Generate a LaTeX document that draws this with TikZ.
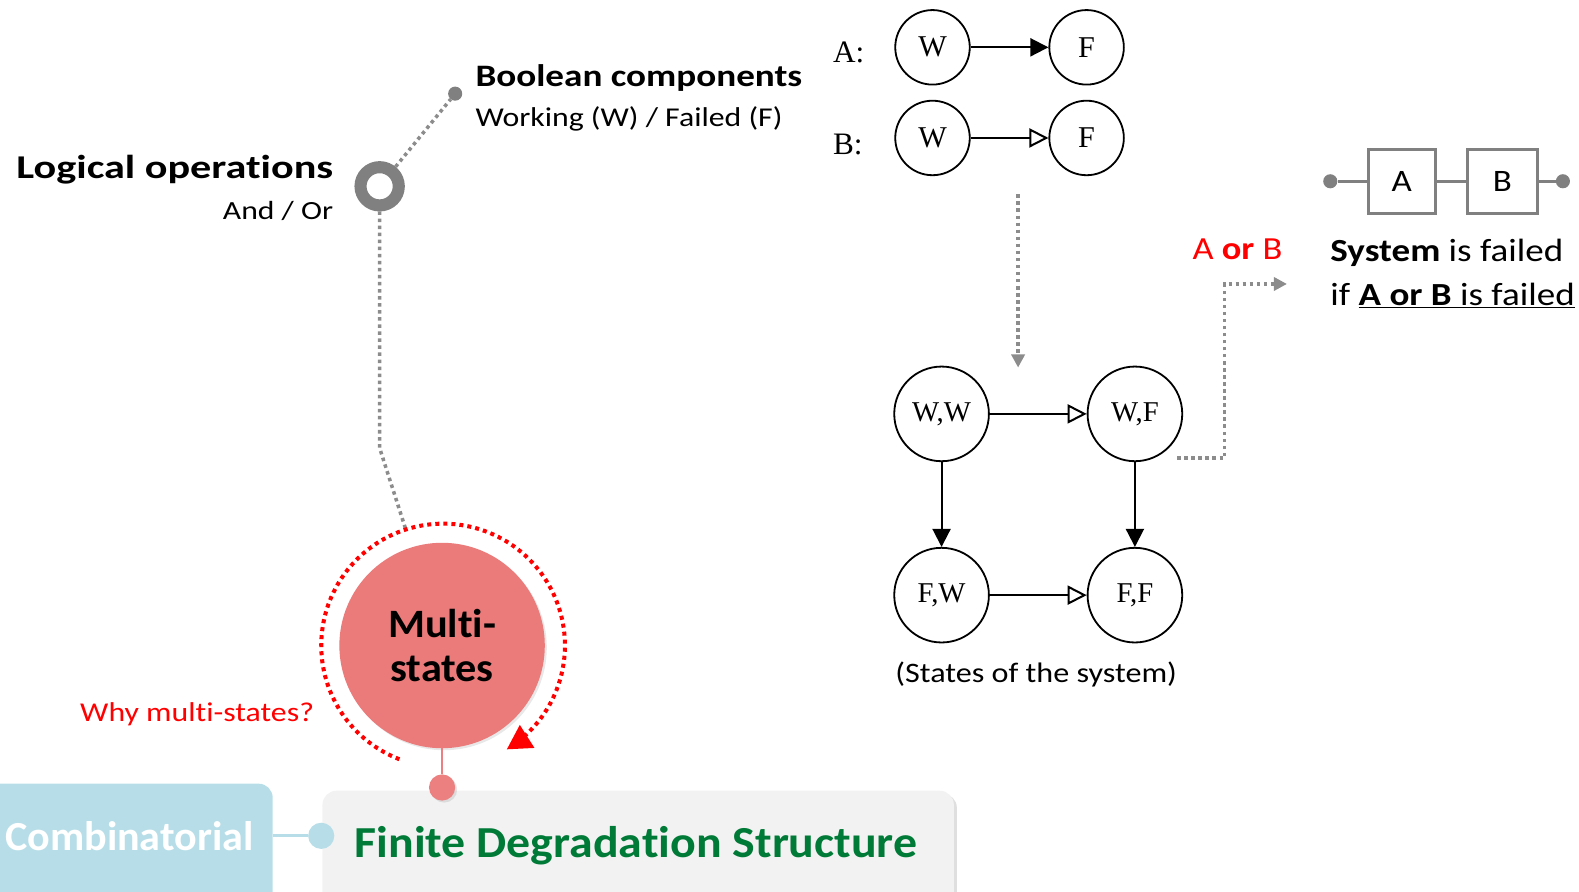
\documentclass[tikz,border=0pt]{standalone}
\usepackage{fontspec}
\setmainfont[Ligatures=NoCommon]{Carlito}
\newfontfamily\tms{Liberation Serif}
\usetikzlibrary{arrows.meta,shadows}

\definecolor{ringgray}{RGB}{128,128,128}
\definecolor{dotgray}{RGB}{140,140,140}
\definecolor{mspink}{RGB}{235,122,122}
\definecolor{dotpink}{RGB}{236,128,128}
\definecolor{combblue}{RGB}{183,222,232}
\definecolor{fdsgray}{RGB}{242,242,242}
\definecolor{fdsgreen}{RGB}{0,122,55}

% size and horizontal stretch of the text font
\newcommand{\wf}[2]{\fontsize{#1}{#1}\selectfont\addfontfeature{FakeStretch=#2}}

\begin{document}
\begin{tikzpicture}[x=1pt,y=-1pt,
  ring/.style={circle, draw=ringgray, line width=12pt, minimum size=38pt, inner sep=0pt},
  graydot/.style={circle, fill=ringgray, inner sep=0pt, minimum size=14pt},
  gdotted/.style={color=dotgray, line width=3.5pt, dash pattern=on 3.5pt off 3.5pt},
  gtip/.style={-{Triangle[length=13pt,width=13pt]}},
  smallstate/.style={circle, draw, line width=1.8pt, minimum size=74pt, inner sep=0pt, font=\tms\fontsize{30}{30}\selectfont},
  bigstate/.style={circle, draw, line width=1.8pt, minimum size=94pt, inner sep=0pt, font=\tms\fontsize{28.5}{28.5}\selectfont},
  blk/.style={line width=2pt},
  fillhead/.style={-{Triangle[length=18pt,width=18pt]}},
  openhead/.style={-{Triangle[open,length=19pt,width=19pt]}},
  sbox/.style={rectangle, draw=ringgray, line width=3pt, minimum width=67pt, minimum height=64pt, inner sep=0pt, font=\wf{31}{1.12}},
  lbl/.style={inner sep=0pt},
]
\path[use as bounding box] (0,0) rectangle (1568,885);
\clip (0,0) rectangle (1568,885);

% ---------- logical operations / boolean components ----------
\node[ring] (ring) at (377,185) {};
\node[graydot] (gdot) at (452,93) {};
\node[circle, minimum size=242pt, inner sep=0pt] (halo) at (440,641) {};
\coordinate (bend) at (377,445);
\draw[gdotted] (ring) -- (gdot);
\draw[gdotted] (ring) -- (bend) -- (halo);

\node[lbl, anchor=base east, font=\bfseries\wf{33}{1.27}] (logop) at (331,177) {Logical operations};
\node[lbl, anchor=base east, font=\wf{26}{1.21}] (andor) at (331,218) {And / Or};
\node[lbl, anchor=base west, font=\bfseries\wf{31}{1.19}] (boolc) at (472,86) {Boolean components};
\node[lbl, anchor=base west, font=\wf{27}{1.17}] (wf-lbl) at (472,126) {Working (W) / Failed (F)};

% ---------- multi-states ----------
\node[circle, fill=mspink, minimum size=204pt, inner sep=0pt, align=center,
      font=\bfseries\fontsize{40}{43}\selectfont\addfontfeature{FakeStretch=1.05},
      drop shadow={shadow xshift=2pt, shadow yshift=-2pt, opacity=0.18}] (ms) at (439,641) {Multi-\\states};
\draw[red, line width=4pt, dash pattern=on 4pt off 4pt, -{Triangle[length=24pt,width=26pt]}]
  plot[domain=111:418.5, samples=160] ({440+121*cos(\x)},{641+121*sin(\x)});
\node[lbl, anchor=base east, text=red, font=\wf{27}{1.17}] (why) at (312,716) {Why multi-states?};

% ---------- bottom boxes ----------
\node[rectangle, rounded corners=14pt, fill=combblue, minimum width=300pt, minimum height=130pt,
      anchor=north east] (comb) at (271,778) {};
\node[lbl, anchor=base west, text=white, font=\bfseries\wf{41}{1.02}] (combtxt) at (5,845) {Combinatorial};
\node[rectangle, rounded corners=14pt, fill=fdsgray, minimum width=627pt, minimum height=130pt,
      anchor=north west, drop shadow={shadow xshift=3pt, shadow yshift=-3pt, opacity=0.25}] (fds) at (320,785) {};
\node[lbl, anchor=base west, text=fdsgreen, font=\bfseries\wf{44}{1.08}] (fdstxt) at (352,852) {Finite Degradation Structure};

\node[circle, fill=combblue, minimum size=26pt, inner sep=0pt] (bdot) at (319,830) {};
\draw[combblue, line width=3pt] (comb.east |- bdot) -- (bdot);
\node[circle, fill=dotpink, minimum size=26pt, inner sep=0pt,
      drop shadow={shadow xshift=2pt, shadow yshift=-2pt, opacity=0.2}] (pdot) at (439,782) {};
\draw[dotpink, line width=2pt] (ms) -- (pdot);

% ---------- component automata ----------
\node[lbl, anchor=base west, font=\tms\fontsize{31}{31}\selectfont] (alab) at (827,62) {A:};
\node[lbl, anchor=base west, font=\tms\fontsize{31}{31}\selectfont] (blab) at (827,153) {B:};
\node[smallstate] (aw) at (926,47) {W};
\node[smallstate] (af) at (1079,47) {F};
\node[smallstate] (bw) at (926,137) {W};
\node[smallstate] (bf) at (1079,137) {F};
\draw[blk, fillhead] (aw) -- (af);
\draw[blk, openhead] (bw) -- (bf);

\coordinate (gtop) at (1011,193);
\coordinate (gend) at (1011,365);
\draw[gdotted, gtip] (gtop) -- (gend);

% ---------- system states ----------
\node[bigstate] (ww) at (935,411) {W,W};
\node[bigstate] (wf) at (1127,411) {W,F};
\node[bigstate] (fw) at (935,591) {F,W};
\node[bigstate] (ff) at (1127,591) {F,F};
\draw[blk, openhead] (ww) -- (wf);
\draw[blk, fillhead] (ww) -- (fw);
\draw[blk, fillhead] (wf) -- (ff);
\draw[blk, openhead] (fw) -- (ff);
\node[lbl, anchor=base, font=\wf{28}{1.14}] (states) at (1029,678) {(States of the system)};

\coordinate (wfout) at (1169,455);
\coordinate (orup) at (1216,282);
\coordinate (ortip) at (1278,282);
\draw[gdotted, gtip] (wfout) -| (orup) -- (ortip);
\node[lbl, anchor=base west, text=red, font=\wf{32}{1.13}] (aorb) at (1184,258) {A \textbf{or} B};

% ---------- series system ----------
\node[graydot] (sl) at (1321,180) {};
\node[sbox] (sa) at (1392,180) {A};
\node[sbox, minimum width=69pt] (sb) at (1492,180) {B};
\node[graydot] (sr) at (1552,180) {};
\draw[ringgray, line width=3pt] (sl) -- (sa) -- (sb) -- (sr);

\node[lbl, anchor=base west, font=\wf{32}{1.15}] (sys1) at (1321,260) {\textbf{System} is failed};
\node[lbl, anchor=base west, font=\wf{32}{1.15}] (sys2) at (1321,303) {if \underline{\textbf{A or B} is failed}};
\end{tikzpicture}
\end{document}
